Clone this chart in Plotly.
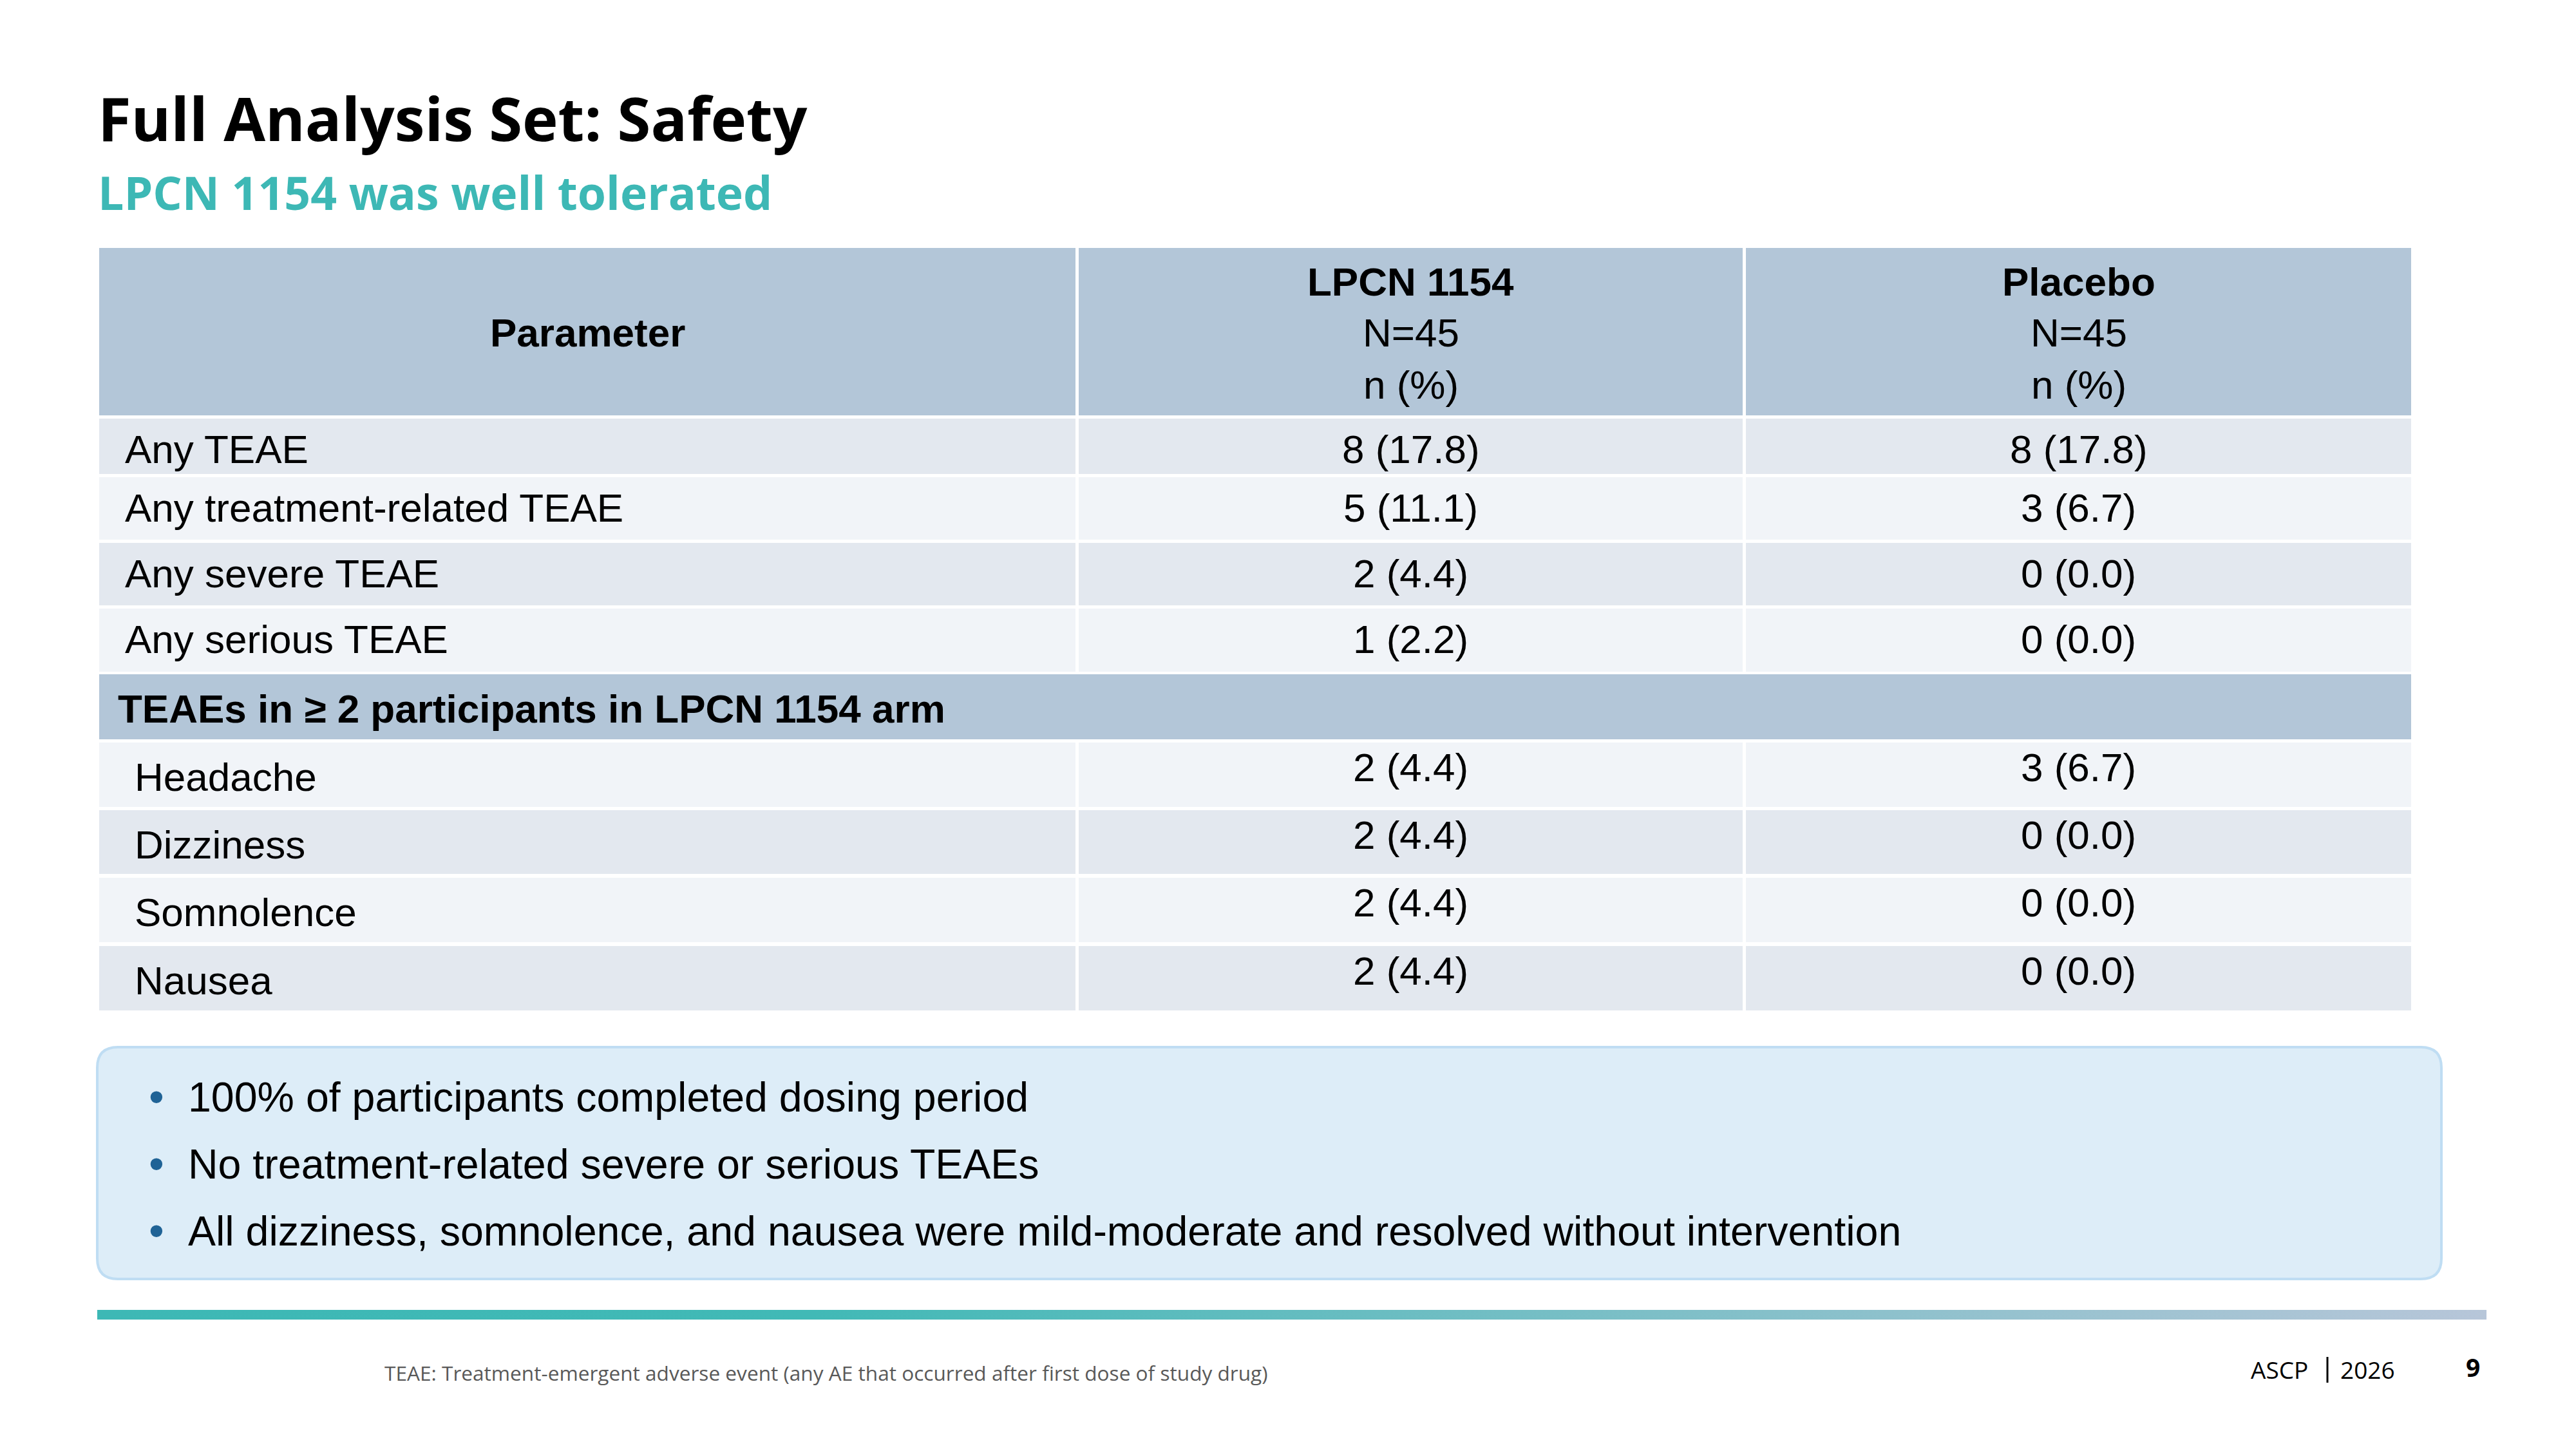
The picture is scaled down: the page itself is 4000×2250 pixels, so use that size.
import base64
import plotly.graph_objects as go

# ---- data -------------------------------------------------------------
title = "Full Analysis Set: Safety"
subtitle = "LPCN 1154 was well tolerated"

arm_names = ["LPCN 1154", "Placebo"]
arm_n = [45, 45]

overall_params = ["Any TEAE", "Any treatment-related TEAE", "Any severe TEAE", "Any serious TEAE"]
overall_lpcn_n = [8, 5, 2, 1]
overall_lpcn_pct = [17.8, 11.1, 4.4, 2.2]
overall_pbo_n = [8, 3, 0, 0]
overall_pbo_pct = [17.8, 6.7, 0.0, 0.0]

section_label = "TEAEs in \u2265 2 participants in LPCN 1154 arm"
ae_terms = ["Headache", "Dizziness", "Somnolence", "Nausea"]
ae_lpcn_n = [2, 2, 2, 2]
ae_lpcn_pct = [4.4, 4.4, 4.4, 4.4]
ae_pbo_n = [3, 0, 0, 0]
ae_pbo_pct = [6.7, 0.0, 0.0, 0.0]

bullets = [
    "100% of participants completed dosing period",
    "No treatment-related severe or serious TEAEs",
    "All dizziness, somnolence, and nausea were mild-moderate and resolved without intervention",
]
footnote = "TEAE: Treatment-emergent adverse event (any AE that occurred after first dose of study drug)"
meeting, year, page_no = "ASCP", "2026", "9"

# ---- style / layout ---------------------------------------------------
# page body has an 8px margin, so the figure is shrunk and the axes shifted
# so that one data unit == one page pixel
PAD = 8
W, H = 4000 - 2 * PAD, 2250 - 2 * PAD
SANS = "Liberation Sans, Arial, sans-serif"
SEGOE = "Open Sans, sans-serif"
HEAD_FILL = "#B3C6D8"
DARK_ROW = "#E3E8EF"
LIGHT_ROW = "#F1F4F8"
TEAL = "#3DB8B5"
FS = 62

col_x = [(154, 1670), (1675, 2706), (2711, 3744)]
header_y = (385, 645)
overall_rows = [(650, 736), (741, 838), (843, 940), (945, 1043)]
section_y = (1047, 1148)
ae_rows = [(1153, 1253), (1258, 1357), (1363, 1463), (1469, 1569)]


def fmt(n, p):
    return f"{n} ({p:.1f})"


fig = go.Figure()
shapes = []
annots = []


def rect(x0, y0, x1, y1, color):
    shapes.append(dict(type="rect", xref="x", yref="y", x0=x0, x1=x1, y0=y0, y1=y1,
                       fillcolor=color, line=dict(width=0), layer="below"))


def text(x, baseline, s, size=FS, family=SANS, color="black", anchor="left", k=0.347):
    annots.append(dict(x=x, y=baseline - k * size, xref="x", yref="y", text=s, showarrow=False,
                       xanchor=anchor, yanchor="middle",
                       font=dict(family=family, size=size, color=color), borderpad=0))


def mid(c):
    return (c[0] + c[1]) / 2


# header
for c in col_x:
    rect(c[0], header_y[0], c[1], header_y[1], HEAD_FILL)
text(mid(col_x[0]), 538, "<b>Parameter</b>", anchor="center")
for i, name in enumerate(arm_names):
    cx = mid(col_x[i + 1])
    text(cx, 459, f"<b>{name}</b>", anchor="center")
    text(cx, 538, f"N={arm_n[i]}", anchor="center")
    text(cx, 619, "n (%)", anchor="center")

# overall rows
for i, p in enumerate(overall_params):
    y0, y1 = overall_rows[i]
    fill = DARK_ROW if i % 2 == 0 else LIGHT_ROW
    for c in col_x:
        rect(c[0], y0, c[1], y1, fill)
    base = y0 + 69
    text(193, base, p)
    text(mid(col_x[1]), base, fmt(overall_lpcn_n[i], overall_lpcn_pct[i]), anchor="center")
    text(mid(col_x[2]), base, fmt(overall_pbo_n[i], overall_pbo_pct[i]), anchor="center")

# section row spanning all columns
rect(col_x[0][0], section_y[0], col_x[2][1], section_y[1], HEAD_FILL)
text(182, 1122, f"<b>{section_label}</b>")

# adverse-event rows
for i, term in enumerate(ae_terms):
    y0, y1 = ae_rows[i]
    fill = LIGHT_ROW if i % 2 == 0 else DARK_ROW
    for c in col_x:
        rect(c[0], y0, c[1], y1, fill)
    text(208, y0 + 75, term)
    text(mid(col_x[1]), y0 + 60, fmt(ae_lpcn_n[i], ae_lpcn_pct[i]), anchor="center")
    text(mid(col_x[2]), y0 + 60, fmt(ae_pbo_n[i], ae_pbo_pct[i]), anchor="center")

# key-message box
bx0, by0, bx1, by1, r = 151, 1626, 3791, 1986, 32
path = (f"M {bx0 + r},{by0} L {bx1 - r},{by0} Q {bx1},{by0} {bx1},{by0 + r} "
        f"L {bx1},{by1 - r} Q {bx1},{by1} {bx1 - r},{by1} L {bx0 + r},{by1} "
        f"Q {bx0},{by1} {bx0},{by1 - r} L {bx0},{by0 + r} Q {bx0},{by0} {bx0 + r},{by0} Z")
shapes.append(dict(type="path", xref="x", yref="y", path=path, fillcolor="#DDEDF8",
                   line=dict(color="#BFDDF3", width=4), layer="below"))
for i, b in enumerate(bullets):
    base = 1726 + i * 104
    text(243, base, "\u2022", color="#1F6396", anchor="center", size=68)
    text(291, base, b, size=64.5)

# gradient rule
svg = ("<svg xmlns='http://www.w3.org/2000/svg' width='1000' height='10' preserveAspectRatio='none'>"
       "<defs><linearGradient id='g' x1='0' x2='1' y1='0' y2='0'>"
       "<stop offset='0' stop-color='#3DB8B5'/><stop offset='0.3' stop-color='#41B9B6'/>"
       "<stop offset='0.65' stop-color='#7DBFC7'/><stop offset='1' stop-color='#B7C6D9'/>"
       "</linearGradient></defs><rect width='1000' height='10' fill='url(#g)'/></svg>")
src = "data:image/svg+xml;base64," + base64.b64encode(svg.encode()).decode()
gx0, gx1, gy0, gy1 = 151, 3861, 2034, 2049
fig.add_layout_image(dict(source=src, xref="paper", yref="paper",
                          x=(gx0 - PAD) / W, y=1 - (gy0 - PAD) / H,
                          sizex=(gx1 - gx0) / W, sizey=(gy1 - gy0) / H,
                          xanchor="left", yanchor="top", sizing="stretch", layer="above"))

# titles
text(151, 219, f"<b>{title}</b>", size=94, family=SEGOE, k=0.388)
text(151, 326, f"<b>{subtitle}</b>", size=71.5, family=SEGOE, color=TEAL, k=0.388)

# footer
text(596, 2144, footnote, size=31.6, family=SEGOE, color="#595959", k=0.388)
text(3585, 2141, meeting, size=37, family=SEGOE, anchor="right", k=0.388)
text(3633, 2141, year, size=37, family=SEGOE, k=0.388)
shapes.append(dict(type="line", xref="x", yref="y", x0=3614, x1=3614, y0=2107, y1=2147,
                   line=dict(color="black", width=3)))
text(3828, 2138, f"<b>{page_no}</b>", size=39, family=SEGOE, k=0.388)

# invisible trace so the axes exist
fig.add_trace(go.Scatter(x=[PAD, PAD + W], y=[PAD, PAD + H], mode="markers",
                         marker=dict(opacity=0), hoverinfo="skip", showlegend=False))

fig.update_layout(
    width=W, height=H,
    margin=dict(l=0, r=0, t=0, b=0),
    paper_bgcolor="white", plot_bgcolor="white",
    xaxis=dict(range=[PAD, PAD + W], visible=False, fixedrange=True),
    yaxis=dict(range=[PAD + H, PAD], visible=False, fixedrange=True),
    shapes=shapes, annotations=annots, showlegend=False,
)

fig.write_html("out.html")
